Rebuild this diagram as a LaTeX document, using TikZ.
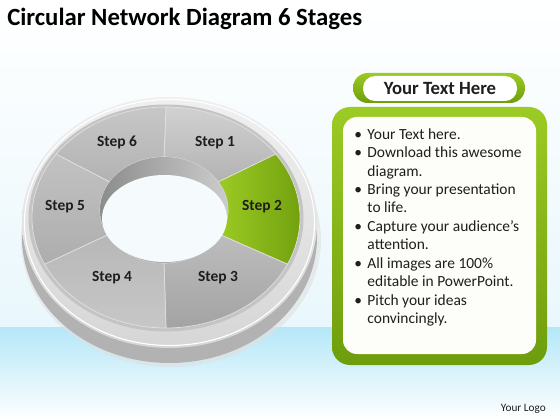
\documentclass[tikz,border=0pt]{standalone}
\usepackage{fontspec}
\setmainfont{Carlito}
\usepackage{tikz}
\usepackage{xcolor}
\usetikzlibrary{calc}

\definecolor{skytop}{HTML}{E9F7FC}
\definecolor{skyband}{HTML}{B4E7F8}
\definecolor{rimlight}{HTML}{F0F0F0}
\definecolor{rimdark}{HTML}{D6D6D6}
\definecolor{rimside}{HTML}{B2B2B2}
\definecolor{bevel}{HTML}{C4C4C4}
\definecolor{holecol}{HTML}{F5FAFD}
\definecolor{limelight}{HTML}{9CCB25}
\definecolor{limedark}{HTML}{6E9D0C}
\definecolor{panelwhite}{HTML}{FDFDF9}
\definecolor{inktext}{HTML}{1E1E1E}

\tikzset{
  segA/.style={top color=black!18,bottom color=black!30},
  segB/.style={left color=limelight,right color=limedark},
  segC/.style={top color=black!26,bottom color=black!36},
  segD/.style={top color=black!28,bottom color=black!22},
  segE/.style={top color=black!24,bottom color=black!32},
  segF/.style={top color=black!22,bottom color=black!30},
  steplabel/.style={font=\fontsize{11}{13}\bfseries\selectfont,text=inktext,inner sep=0pt},
  bodytext/.style={font=\fontsize{11}{13.15}\selectfont,text=inktext,align=left,inner sep=0pt}
}

\begin{document}
\begin{tikzpicture}[x=0.025cm,y=-0.025cm]
\useasboundingbox (0,0) rectangle (560,420);
\shade[top color=white,bottom color=skytop] (0,0) rectangle (560,327);
\shade[top color=skyband,bottom color=white] (0,327) rectangle (560,420);

\node[anchor=base west,inner sep=0pt,font=\fontsize{17.6}{20}\bfseries\selectfont] (title) at (7,26) {Circular Network Diagram 6 Stages};

% ring
\fill[black!12,opacity=.6] (171,240) ellipse[x radius=150,y radius=127];
\fill[rimside] (169.5,237.5) ellipse[x radius=147.5,y radius=125.5];
\fill[rimside] (22,222.5) rectangle (317,237.5);
\shade[top color=rimlight,bottom color=rimdark] (169.5,222.5) ellipse[x radius=147.5,y radius=125.5];
\draw[white,line width=0.8pt] (169.5,222.5) ellipse[x radius=145,y radius=123];
\fill[bevel] (166,218) ellipse[x radius=137.5,y radius=113.5];

\foreach \ao/\bo/\ai/\bi/\sty in {-90/-35/-90/-32/segA,-35/25/-32/28/segB,25/90/28/90/segC,90/155/90/152/segD,155/215/152/212/segE,215/270/212/270/segF}
  \shade[\sty,draw=white!88!black,line width=0.5pt]
    ($(166,217.5)+(\ao:134 and 110.5)$) arc[start angle=\ao,end angle=\bo,x radius=134,y radius=110.5]
    -- ($(164,210)+(\bi:64 and 53)$) arc[start angle=\bi,end angle=\ai,x radius=64,y radius=53] -- cycle;

\shade[left color=black!45,right color=black!20] (164,210) ellipse[x radius=64,y radius=53];
\fill[holecol] (164.5,218.5) ellipse[x radius=62.5,y radius=43.5];

\node[steplabel] (step1) at (215,143) {Step 1};
\node[steplabel] (step2) at (262,207) {Step 2};
\node[steplabel] (step3) at (218,278) {Step 3};
\node[steplabel] (step4) at (112,278) {Step 4};
\node[steplabel] (step5) at (65,207) {Step 5};
\node[steplabel] (step6) at (117,142) {Step 6};

% text panel
\shade[top color=limelight,bottom color=limedark,rounded corners=0.37cm] (353,73) rectangle (525,103);
\fill[white,rounded corners=0.3cm] (363,76) rectangle (517,101);
\node[inner sep=0pt,font=\fontsize{13.3}{16}\bfseries\selectfont,text=inktext] (header) at (440,88.5) {Your Text Here};

\shade[top color=limelight,bottom color=limedark,rounded corners=0.45cm] (332,107) rectangle (547,365);
\fill[panelwhite,rounded corners=0.35cm] (343,117) rectangle (536,354);
\node[bodytext,anchor=north west] (bullets) at (354,128) {%
\makebox[0.33cm][l]{\textbullet}Your Text here.\\
\makebox[0.33cm][l]{\textbullet}Download this awesome\\
\hspace*{0.33cm}diagram.\\
\makebox[0.33cm][l]{\textbullet}Bring your presentation\\
\hspace*{0.33cm}to life.\\
\makebox[0.33cm][l]{\textbullet}Capture your audience’s\\
\hspace*{0.33cm}attention.\\
\makebox[0.33cm][l]{\textbullet}All images are 100\%\\
\hspace*{0.33cm}editable in PowerPoint.\\
\makebox[0.33cm][l]{\textbullet}Pitch your ideas\\
\hspace*{0.33cm}convincingly.};

\node[anchor=base east,inner sep=0pt,font=\fontsize{8}{10}\selectfont,text=inktext] (logo) at (546,411) {Your Logo};
\end{tikzpicture}
\end{document}
